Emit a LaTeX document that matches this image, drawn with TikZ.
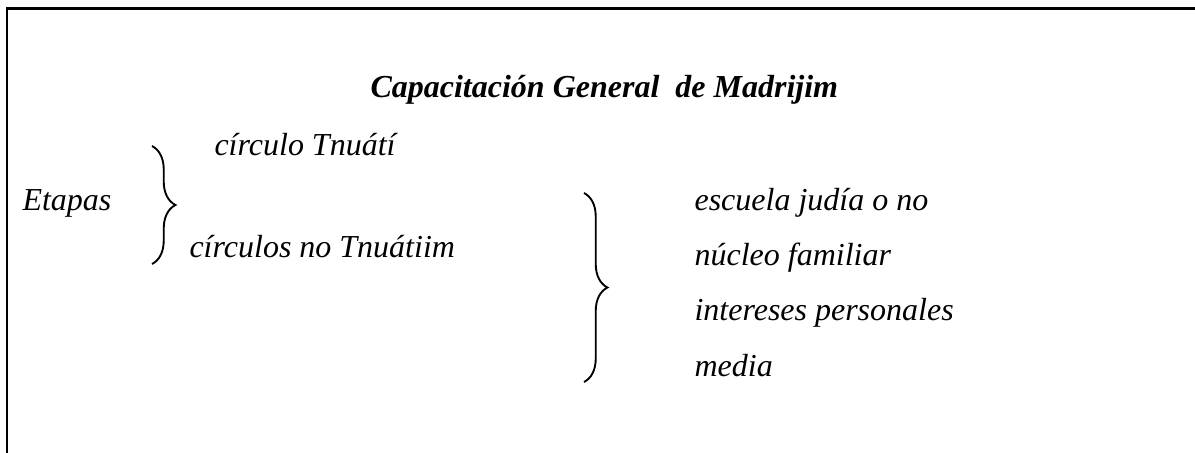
\documentclass[tikz,border=0pt]{standalone}
\usepackage{fontspec}
\setmainfont{Liberation Serif}
\usetikzlibrary{decorations.pathreplacing}
\begin{document}
\begin{tikzpicture}[x=0.375pt, y=-0.375pt,
    lbl/.style={anchor=base west, inner sep=0pt, font=\fontsize{12}{14}\selectfont\itshape},
    curly/.style={decorate, decoration={brace, amplitude=8.8pt}, line width=0.7pt}]

            \def\Xa{22};
            \def\Xb{152};
            \def\Xc{189};
            \def\Xd{584};
            \def\Xe{694};
            \def\dY{55.4};

            \useasboundingbox (0,0) rectangle (1195,452);

            % frame
            \draw[line width=0.85pt] (7,460) -- (7,8.5) -- (1200,8.5);

            % title
            \node[lbl, font=\fontsize{12}{14}\selectfont\bfseries\itshape] (titulo) at (370, 97)
                {Capacitación General\ \ de Madrijim};

            % left group
            \node[lbl] (etapas) at (\Xa, 210) {Etapas};
            \node[lbl] (tnuati) at (214, 155) {círculo Tnuátí};
            \node[lbl] (noTnuati) at (\Xc, 257) {círculos no Tnuátiim};
            \coordinate (b1top) at (\Xb, 146);
            \coordinate (b1bot) at (\Xb, 264);
            \draw[curly] (b1top) -- (b1bot);

            % right group
            \node[lbl] (escuela) at (\Xe, 210) {escuela judía o no};
            \node[lbl] (nucleo) at (\Xe, 210 + \dY) {núcleo familiar};
            \node[lbl] (intereses) at (\Xe, 210 + 2 * \dY) {intereses personales};
            \node[lbl] (media) at (\Xe, 210 + 3 * \dY) {media};
            \coordinate (b2top) at (\Xd, 193);
            \coordinate (b2bot) at (\Xd, 382);
            \draw[curly] (b2top) -- (b2bot);
        \end{tikzpicture}
\end{document}
